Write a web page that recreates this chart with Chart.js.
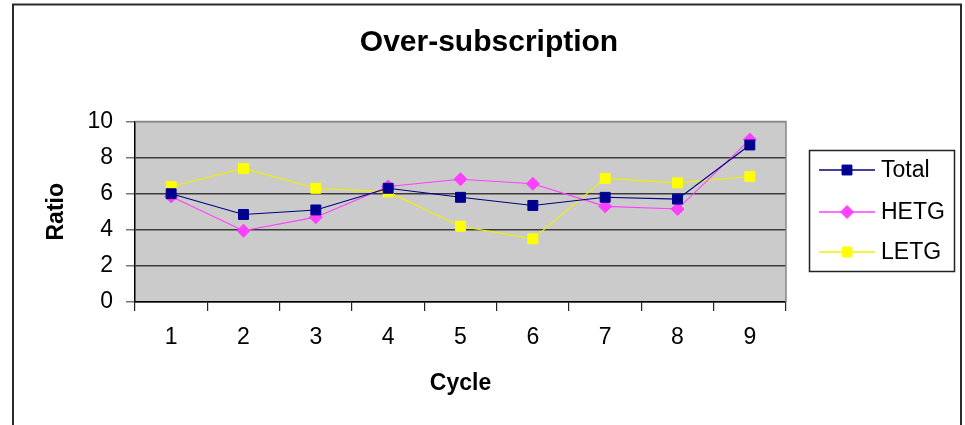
<!DOCTYPE html>
<html lang="en">
<head>
  <meta charset="utf-8">
  <title>Over-subscription</title>
  <script src="https://cdn.jsdelivr.net/npm/chart.js@4.4.1/dist/chart.umd.min.js"></script>
  <style>
    body { margin: 0; background: #fff; }
    canvas { display: block; }
  </style>
</head>
<body>
  <canvas id="ratioChart" width="965" height="425"></canvas>
  <script>
    // Values
    const cycles = ['1', '2', '3', '4', '5', '6', '7', '8', '9'];
    const totalRatio = [6.0, 4.85, 5.1, 6.3, 5.8, 5.35, 5.8, 5.7, 8.7];
    const hetgRatio  = [5.85, 3.95, 4.7, 6.4, 6.8, 6.55, 5.3, 5.15, 9.0];
    const letgRatio  = [6.4, 7.4, 6.3, 6.1, 4.2, 3.5, 6.85, 6.6, 6.95];
    const yTicks = [0, 2, 4, 6, 8, 10];
    const chartTitle = 'Over-subscription';

    const FONT = '"Liberation Sans", Arial, sans-serif';

    // plot background, outer frame, title and the Excel-style legend box
    const excelLook = {
      id: 'excelLook',
      beforeDraw(chart) {
        const { ctx, chartArea: a } = chart;
        ctx.save();
        ctx.fillStyle = '#cbcbcb';
        ctx.fillRect(a.left, a.top, a.right - a.left, a.bottom - a.top);
        ctx.restore();
      },
      beforeDatasetsDraw(chart) {
        const { ctx, chartArea: a } = chart;
        ctx.save();
        ctx.strokeStyle = '#888';
        ctx.lineWidth = 1.5;
        ctx.beginPath();
        ctx.moveTo(a.left, a.top);
        ctx.lineTo(a.right, a.top);
        ctx.lineTo(a.right, a.bottom);
        ctx.stroke();
        ctx.restore();
      },
      afterDraw(chart) {
        const ctx = chart.ctx;
        ctx.save();
        // outer frame
        ctx.strokeStyle = '#2a2a2a';
        ctx.lineWidth = 2;
        ctx.strokeRect(13, 4.5, 948, 440);

        // title is centred on the whole frame, not on the plot
        ctx.fillStyle = '#000';
        ctx.font = 'bold 30px ' + FONT;
        ctx.textAlign = 'center';
        ctx.textBaseline = 'middle';
        ctx.fillText(chartTitle, 489, 43);

        // legend
        ctx.strokeStyle = '#222';
        ctx.lineWidth = 1.5;
        ctx.strokeRect(809.5, 150.5, 145, 121);
        const rowY = [170, 212, 252];
        ctx.font = '23px ' + FONT;
        ctx.textAlign = 'left';
        chart.data.datasets.forEach((ds, i) => {
          const y = rowY[i];
          ctx.strokeStyle = ds.borderColor;
          ctx.lineWidth = 1.5;
          ctx.beginPath();
          ctx.moveTo(819, y);
          ctx.lineTo(875, y);
          ctx.stroke();
          ctx.fillStyle = ds.pointBackgroundColor;
          ctx.strokeStyle = ds.pointBorderColor;
          ctx.lineWidth = 1;
          Chart.helpers.drawPoint(ctx, { pointStyle: ds.pointStyle, radius: ds.pointRadius, borderWidth: 1 }, 847, y);
          ctx.fillStyle = '#000';
          ctx.fillText(ds.label, 881, y + 1);
        });
        ctx.restore();
      }
    };

    new Chart(document.getElementById('ratioChart'), {
      type: 'line',
      data: {
        labels: cycles,
        datasets: [
          {
            label: 'Total',
            data: totalRatio,
            borderColor: '#000080',
            borderWidth: 1.1,
            pointStyle: 'rect',
            pointRadius: 7,
            pointBackgroundColor: '#000090',
            pointBorderColor: '#000090',
            pointBorderWidth: 1
          },
          {
            label: 'HETG',
            data: hetgRatio,
            borderColor: '#ff40ff',
            borderWidth: 1.1,
            pointStyle: 'rectRot',
            pointRadius: 6.5,
            pointBackgroundColor: '#ff40ff',
            pointBorderColor: '#ff40ff',
            pointBorderWidth: 1
          },
          {
            label: 'LETG',
            data: letgRatio,
            borderColor: '#f0f000',
            borderWidth: 1.1,
            pointStyle: 'rect',
            pointRadius: 7,
            pointBackgroundColor: '#ffff00',
            pointBorderColor: '#ffff00',
            pointBorderWidth: 1
          }
        ]
      },
      options: {
        responsive: false,
        animation: false,
        layout: { padding: { left: 20, right: 179, top: 121.5, bottom: 0 } },
        elements: { line: { tension: 0 } },
        scales: {
          x: {
            offset: true,
            afterFit: s => { s.height = 123; },
            grid: { offset: true, drawOnChartArea: false, tickLength: 9, color: '#222', lineWidth: 1.2 },
            border: { color: '#000', width: 1.5 },
            ticks: { color: '#000', padding: 13, font: { family: FONT, size: 23 } },
            title: {
              display: true, text: 'Cycle', color: '#000',
              font: { family: FONT, size: 23, weight: 'bold' },
              padding: { top: 0, bottom: 28 }
            }
          },
          y: {
            min: 0,
            max: 10,
            afterFit: s => { s.width = 115; },
            afterBuildTicks: s => { s.ticks = yTicks.map(v => ({ value: v })); },
            grid: {
              tickLength: 9,
              lineWidth: 1.5,
              color: c => (c.tick && c.tick.value === 10 ? '#888' : '#3c3c3c'),
              tickColor: '#777'
            },
            border: { color: '#000', width: 1.5 },
            ticks: { color: '#000', padding: 13, font: { family: FONT, size: 23 } },
            title: {
              display: true, text: 'Ratio', color: '#000',
              font: { family: FONT, size: 23, weight: 'bold' },
              padding: { top: 23, bottom: 0 }
            }
          }
        },
        plugins: {
          legend: { display: false },
          tooltip: { enabled: false },
          title: { display: false }
        }
      },
      plugins: [excelLook]
    });
  </script>
</body>
</html>
